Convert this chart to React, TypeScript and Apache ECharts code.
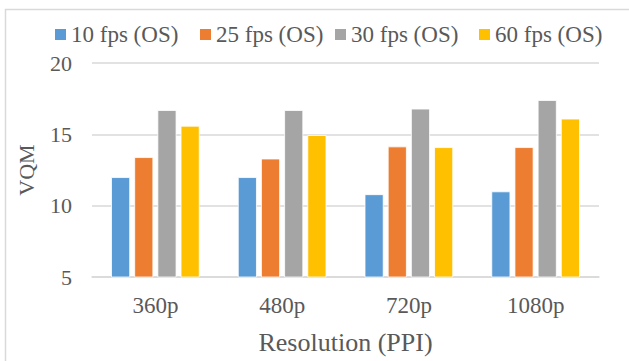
import React, { useEffect, useRef } from "react";
import * as echarts from "echarts";

const categories = ["360p", "480p", "720p", "1080p"];
const seriesNames = ["10 fps (OS)", "25 fps (OS)", "30 fps (OS)", "60 fps (OS)"];
const fps10 = [12.0, 12.0, 10.8, 11.0];
const fps25 = [13.4, 13.3, 14.15, 14.1];
const fps30 = [16.7, 16.7, 16.8, 17.4];
const fps60 = [15.6, 14.95, 14.1, 16.1];
const colors = ["#5B9BD5", "#ED7D31", "#A5A5A5", "#FFC000"];

const FONT = "'Liberation Serif', serif";
const TEXT = "#595959";

// left edge of each legend swatch
const legendX = [55, 200, 335, 479];
const LEGEND_Y = 34.5;

export default function App() {
  const ref = useRef<HTMLDivElement>(null);

  useEffect(() => {
    if (!ref.current) return;
    const chart = echarts.init(ref.current, undefined, { renderer: "svg" });
    const values = [fps10, fps25, fps30, fps60];

    const legendItems = seriesNames.map((name, i) => ({
      type: "group",
      x: legendX[i],
      y: LEGEND_Y,
      silent: true,
      children: [
        {
          type: "rect",
          shape: { x: 0, y: -5.5, width: 11, height: 11 },
          style: { fill: colors[i] },
        },
        {
          type: "text",
          x: 16,
          y: 0,
          style: {
            text: name,
            fontFamily: FONT,
            fontSize: 23,
            fill: TEXT,
            verticalAlign: "middle",
            align: "left",
          },
        },
      ],
    }));

    chart.setOption({
      animation: false,
      backgroundColor: "#ffffff",
      textStyle: { fontFamily: FONT, color: TEXT },
      graphic: [
        {
          type: "rect",
          shape: { x: 5.5, y: 9.5, width: 700, height: 400 },
          style: { fill: "none", stroke: "#d9d9d9", lineWidth: 1.5 },
          silent: true,
        },
        ...legendItems,
      ],
      grid: { left: 92, right: 30, top: 63, bottom: 84 },
      xAxis: {
        type: "category",
        data: categories,
        name: "Resolution (PPI)",
        nameLocation: "middle",
        nameGap: 52,
        nameTextStyle: { fontFamily: FONT, fontSize: 26, color: TEXT },
        axisLine: { lineStyle: { color: "#d9d9d9", width: 1.5 } },
        axisTick: { show: false },
        axisLabel: { fontFamily: FONT, fontSize: 23, color: TEXT, margin: 17 },
      },
      yAxis: {
        type: "value",
        min: 5,
        max: 20,
        interval: 5,
        name: "VQM",
        nameLocation: "middle",
        nameGap: 55,
        nameTextStyle: { fontFamily: FONT, fontSize: 22, color: TEXT },
        axisLine: { show: false },
        axisTick: { show: false },
        axisLabel: { fontFamily: FONT, fontSize: 22, color: TEXT, margin: 20 },
        splitLine: { lineStyle: { color: "#d9d9d9", width: 1.5 } },
      },
      series: seriesNames.map((name, i) => ({
        name,
        type: "bar",
        data: values[i],
        barWidth: 19,
        barGap: "22%",
        itemStyle: { color: colors[i], borderColor: "#ffffff", borderWidth: 0.8 },
      })),
    });
    return () => chart.dispose();
  }, []);

  return (
    <div
      ref={ref}
      style={{ position: "fixed", left: 0, top: 0, width: 629, height: 361 }}
    />
  );
}
